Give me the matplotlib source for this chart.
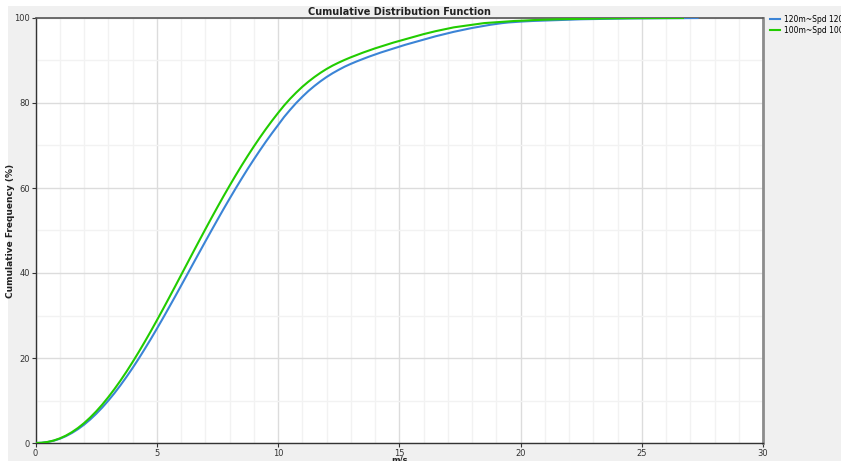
import numpy as np
import matplotlib
matplotlib.use("Agg")
import matplotlib.pyplot as plt
from matplotlib.patches import Rectangle

# ---- data ----
series_names = ["120m~Spd 120m", "100m~Spd 100m"]
series_colors = ["#3b84d6", "#22cc00"]

# wind-speed bins (m/s): 0.25 m/s up to 20, 0.5 m/s beyond
speed_fine = np.arange(0, 20.001, 0.25)
speed_blue_tail = [20.5, 21, 21.5, 22, 22.5, 23, 23.5, 24, 24.5, 25, 25.5, 26, 26.5, 27, 27.3]
speed_green_tail = [20.5, 21, 21.5, 22, 22.5, 23, 23.5, 24, 24.5, 25, 25.5, 26, 26.7]

cum_120m = [
    0.0, 0.05, 0.23, 0.54, 0.99, 1.60, 2.35, 3.25, 4.30, 5.50, 6.85, 8.33, 9.95,
    11.69, 13.56, 15.54, 17.62, 19.80, 22.08, 24.42, 26.84, 29.31, 31.84, 34.39,
    36.98, 39.58, 42.19, 44.79, 47.38, 49.95, 52.49, 55.00, 57.45, 59.86, 62.20,
    64.49, 66.69, 68.83, 70.90, 72.88, 74.78,
    76.7, 78.4, 80.0, 81.45, 82.8, 84.0, 85.1, 86.1, 87.0, 87.8, 88.55, 89.2,
    89.8, 90.35, 90.9, 91.4, 91.9, 92.35, 92.8, 93.25, 93.7, 94.1, 94.5, 94.9,
    95.3, 95.7, 96.05, 96.4, 96.75, 97.05, 97.35, 97.65, 97.9, 98.15, 98.4, 98.6,
    98.8, 98.95, 99.05, 99.15,
    99.3, 99.4, 99.5, 99.6, 99.7, 99.75, 99.8, 99.85, 99.9, 99.92, 99.94, 99.96,
    99.97, 99.99, 100.0,
]
cum_100m = [
    0.0, 0.06, 0.25, 0.58, 1.08, 1.73, 2.55, 3.53, 4.67, 5.97, 7.42, 9.02, 10.77,
    12.65, 14.65, 16.77, 19.01, 21.34, 23.76, 26.25, 28.81, 31.42, 34.08, 36.76,
    39.47, 42.18, 44.89, 47.58, 50.25, 52.89, 55.48, 58.03, 60.51, 62.93, 65.28,
    67.55, 69.74, 71.85, 73.87, 75.80, 77.64,
    79.4, 81.0, 82.45, 83.8, 85.0, 86.1, 87.1, 88.0, 88.8, 89.5, 90.15, 90.75,
    91.3, 91.85, 92.35, 92.85, 93.3, 93.75, 94.2, 94.6, 95.0,
    95.4, 95.8, 96.2, 96.55, 96.9, 97.2, 97.5, 97.8, 98.0, 98.2, 98.4, 98.6,
    98.8, 98.9, 99.0, 99.1, 99.2, 99.3, 99.35,
    99.5, 99.6, 99.7, 99.75, 99.8, 99.85, 99.9, 99.93, 99.95, 99.97, 99.98, 99.99,
    100.0,
]

x_ticks = [0, 5, 10, 15, 20, 25, 30]
y_ticks = [0, 20, 40, 60, 80, 100]

# ---- figure ----
W, H = 841, 461
fig = plt.figure(figsize=(W / 100, H / 100), dpi=100, facecolor="white")
fig.patches.append(Rectangle((8 / W, 0), 1 - 8 / W, 1 - 6 / H,
                             transform=fig.transFigure, facecolor="#f0f0f0",
                             edgecolor="none", zorder=-10))

ax_h = 443 - 18
ax_w = 763 - 35.5
ax = fig.add_axes([35.5 / W, 1 - 443 / H, ax_w / W, ax_h / H])
ax.set_facecolor("white")

speeds_blue = np.concatenate([speed_fine, speed_blue_tail])
speeds_green = np.concatenate([speed_fine, speed_green_tail])

ax.plot(speeds_blue, cum_120m, color=series_colors[0],
        lw=1.5, label=series_names[0], zorder=3)
ax.plot(speeds_green, cum_100m, color=series_colors[1],
        lw=1.5, label=series_names[1], zorder=4)

ax.set_xlim(0, 30)
ax.set_ylim(0, 100)
ax.set_xticks(x_ticks)
ax.set_yticks(y_ticks)
ax.set_xticks(np.arange(0, 31, 1), minor=True)
ax.set_yticks(np.arange(0, 101, 10), minor=True)
ax.grid(True, which="major", color="#dcdcdc", lw=1.0, zorder=0)
ax.grid(True, which="minor", color="#f2f2f2", lw=1.0, zorder=0)
ax.set_axisbelow(True)

ax.tick_params(which="major", direction="out", length=3, width=0.8,
               labelsize=6, colors="#333333", pad=1.0)
ax.tick_params(which="minor", length=0)

for s in ["left", "bottom"]:
    ax.spines[s].set_color("#333333")
    ax.spines[s].set_linewidth(1.0)
ax.spines["top"].set_color("#555555")
ax.spines["top"].set_linewidth(1.2)
ax.spines["right"].set_color("#8c8c8c")
ax.spines["right"].set_linewidth(2.0)

ax.set_title("Cumulative Distribution Function", fontsize=7, fontweight="bold",
             color="#222222", pad=2)
ax.set_ylabel("Cumulative Frequency (%)", fontsize=6.5, fontweight="bold",
              color="#222222")
ax.yaxis.set_label_coords((15 - 35.5) / ax_w, 0.5)
ax.set_xlabel("m/s", fontsize=6, fontweight="bold", color="#222222")
ax.xaxis.set_label_coords(0.5, (443 - 455.5) / ax_h)
ax.xaxis.label.set_va("top")

fig.legend(loc="upper left", bbox_to_anchor=(770 / W, 1 - 15 / H),
           frameon=False, fontsize=5.5, handlelength=1.3, handletextpad=0.5,
           labelspacing=0.2, borderaxespad=0, borderpad=0)

fig.savefig("out.png", dpi=100, facecolor=fig.get_facecolor())
